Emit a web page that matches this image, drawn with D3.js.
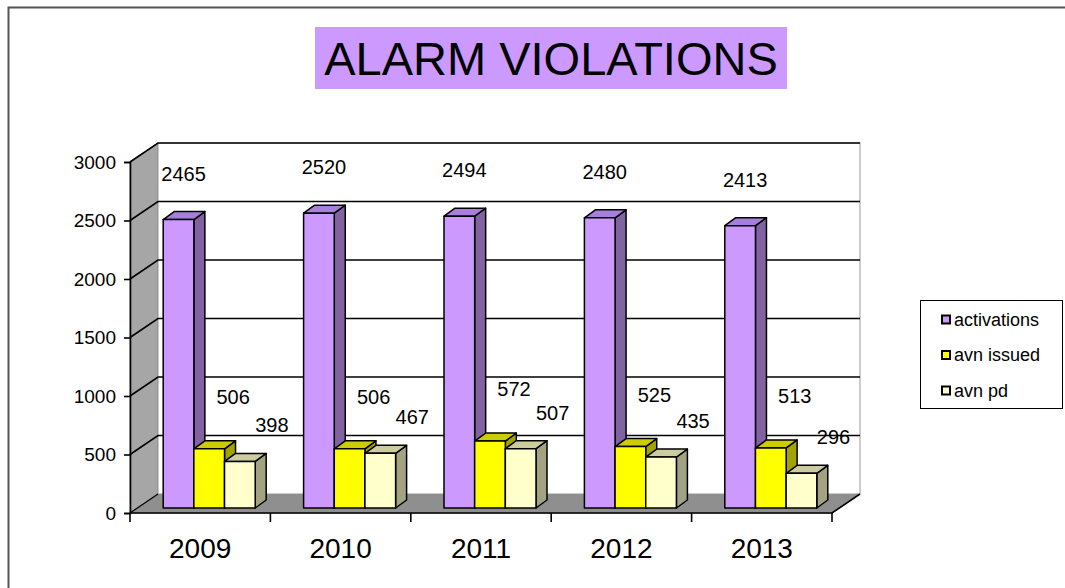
<!DOCTYPE html>
<html>
<head>
<meta charset="utf-8">
<script src="https://cdn.jsdelivr.net/npm/d3@7"></script>
<style>
body { margin: 0; background: #fff; }
svg text { font-family: Arial, "Liberation Sans", sans-serif; fill: #000; }
</style>
</head>
<body>
<div id="chart"></div>
<script>
var years = ["2009", "2010", "2011", "2012", "2013"];
var activations = [2465, 2520, 2494, 2480, 2413];
var avnIssued = [506, 506, 572, 525, 513];
var avnPd = [398, 467, 507, 435, 296];
var seriesNames = ["activations", "avn issued", "avn pd"];
var yTicks = [0, 500, 1000, 1500, 2000, 2500, 3000];

var W = 1065, H = 588;
var svg = d3.select("#chart").append("svg")
	.attr("width", W)
	.attr("height", H);

// outer frame
svg.append("path")
	.attr("d", "M8.5," + (H + 2) + "V7.5H" + (W + 2))
	.attr("fill", "none")
	.attr("stroke", "#555")
	.attr("stroke-width", 2);

// title
svg.append("rect")
	.attr("x", 315).attr("y", 27)
	.attr("width", 472).attr("height", 62)
	.attr("fill", "#CC99FF");
svg.append("text")
	.attr("x", 551).attr("y", 75)
	.attr("text-anchor", "middle")
	.attr("font-size", 47)
	.text("ALARM VIOLATIONS");

// plot geometry (front plane + depth)
var x0 = 130, x1 = 832;
var dX = 28, dY = -19;
var y = d3.scaleLinear().domain([0, 3000]).range([513, 162]);
var x = d3.scaleBand().domain(years).range([x0, x1]);

var series = [
	{name: seriesNames[0], values: activations, front: "#CC99FF", top: "#A680DC", side: "#8063A0", ldx: 5, ldy: 39},
	{name: seriesNames[1], values: avnIssued, front: "#FFFF00", top: "#CCCC00", side: "#A3A300", ldx: 24, ldy: 45},
	{name: seriesNames[2], values: avnPd, front: "#FFFFCC", top: "#CCCC9E", side: "#A3A383", ldx: 32, ldy: 29}
];

// side wall
svg.append("polygon")
	.attr("points", [[x0, y(0)], [x0 + dX, y(0) + dY], [x0 + dX, y(3000) + dY], [x0, y(3000)]].join(" "))
	.attr("fill", "#A6A6A6")
	.attr("stroke", "#808080");

// floor
svg.append("polygon")
	.attr("points", [[x0, y(0)], [x1, y(0)], [x1 + dX, y(0) + dY], [x0 + dX, y(0) + dY]].join(" "))
	.attr("fill", "#8F8F8F")
	.attr("stroke", "#808080");

// back wall
svg.append("rect")
	.attr("x", x0 + dX).attr("y", y(3000) + dY)
	.attr("width", x1 - x0).attr("height", y(0) - y(3000))
	.attr("fill", "#fff")
	.attr("stroke", "#999");

// gridlines
var grid = svg.append("g").attr("class", "grid");
grid.selectAll("path")
	.data(yTicks.filter(function(t) { return t > 0; }))
	.enter()
	.append("path")
	.attr("d", function(t) {
		return "M" + x0 + "," + y(t) + "L" + (x0 + dX) + "," + (y(t) + dY) + "H" + (x1 + dX);
	})
	.attr("fill", "none")
	.attr("stroke", "#000")
	.attr("stroke-width", 1.6);

// floor edges
svg.append("path")
	.attr("d", "M" + x0 + "," + y(0) + "L" + (x0 + dX) + "," + (y(0) + dY))
	.attr("stroke", "#000").attr("stroke-width", 1.2);
svg.append("path")
	.attr("d", "M" + x0 + "," + y(0) + "H" + x1 + "L" + (x1 + dX) + "," + (y(0) + dY))
	.attr("fill", "none")
	.attr("stroke", "#000").attr("stroke-width", 1.6);

// y axis
var yAxis = svg.append("g")
	.attr("transform", "translate(" + x0 + ",0)")
	.call(d3.axisLeft(y).tickValues(yTicks).tickSize(6).tickPadding(8).tickFormat(d3.format("d")));
yAxis.select(".domain").attr("stroke", "#000").attr("stroke-width", 1.6);
yAxis.selectAll(".tick line").attr("stroke", "#000").attr("stroke-width", 1.6);
yAxis.selectAll(".tick text")
	.attr("font-size", 19)
	.attr("font-family", "Arial, 'Liberation Sans', sans-serif")
	.attr("fill", "#000");

// x axis ticks and labels
var xAxis = svg.append("g");
xAxis.selectAll("line")
	.data(years.map(function(d) { return x(d); }).concat([x1]))
	.enter()
	.append("line")
	.attr("x1", function(d) { return d; })
	.attr("x2", function(d) { return d; })
	.attr("y1", y(0))
	.attr("y2", y(0) + 9)
	.attr("stroke", "#000")
	.attr("stroke-width", 1.6);
xAxis.selectAll("text")
	.data(years)
	.enter()
	.append("text")
	.attr("x", function(d) { return x(d) + x.bandwidth() / 2; })
	.attr("y", 558)
	.attr("text-anchor", "middle")
	.attr("font-size", 28)
	.text(function(d) { return d; });

// bars
var barOx = 9, barOy = -5;
var bdx = 11, bdy = -8;
var inner = d3.scaleBand().domain(seriesNames).range([0, 92]);
var groupOff = (x.bandwidth() - 92) / 2;
var yb = d3.scaleLinear().domain([0, 3000]).range([y(0) + barOy, y(3000) + barOy]);

var bars = [];
years.forEach(function(yr, i) {
	series.forEach(function(s) {
		bars.push({year: yr, s: s, v: s.values[i],
			bx: x(yr) + groupOff + inner(s.name) + barOx});
	});
});

var bw = inner.bandwidth();
var barG = svg.append("g").attr("class", "bars")
	.selectAll("g")
	.data(bars)
	.enter()
	.append("g")
	.attr("stroke", "#000")
	.attr("stroke-width", 1.5)
	.attr("stroke-linejoin", "round");

barG.append("polygon")
	.attr("points", function(d) {
		var t = yb(d.v), b = yb(0);
		return [[d.bx + bw, t], [d.bx + bw + bdx, t + bdy], [d.bx + bw + bdx, b + bdy], [d.bx + bw, b]].join(" ");
	})
	.attr("fill", function(d) { return d.s.side; });
barG.append("polygon")
	.attr("points", function(d) {
		var t = yb(d.v);
		return [[d.bx, t], [d.bx + bdx, t + bdy], [d.bx + bw + bdx, t + bdy], [d.bx + bw, t]].join(" ");
	})
	.attr("fill", function(d) { return d.s.top; });
barG.append("rect")
	.attr("x", function(d) { return d.bx; })
	.attr("y", function(d) { return yb(d.v); })
	.attr("width", bw)
	.attr("height", function(d) { return yb(0) - yb(d.v); })
	.attr("fill", function(d) { return d.s.front; });

// data labels
svg.append("g").attr("class", "labels")
	.selectAll("text")
	.data(bars)
	.enter()
	.append("text")
	.attr("x", function(d) { return d.bx + bw / 2 + d.s.ldx; })
	.attr("y", function(d) { return yb(d.v) - d.s.ldy; })
	.attr("text-anchor", "middle")
	.attr("font-size", 20)
	.text(function(d) { return d.v; });

// legend
var legend = svg.append("g").attr("transform", "translate(920,300)");
legend.append("rect")
	.attr("x", 0.5).attr("y", 0.5)
	.attr("width", 142).attr("height", 108)
	.attr("fill", "#fff")
	.attr("stroke", "#000");
var li = legend.selectAll("g.item")
	.data(series)
	.enter()
	.append("g")
	.attr("class", "item")
	.attr("transform", function(d, i) { return "translate(22," + (19.5 + i * 35.5) + ")"; });
li.append("rect")
	.attr("x", 0).attr("y", -4)
	.attr("width", 8).attr("height", 8)
	.attr("fill", function(d) { return d.front; })
	.attr("stroke", "#000")
	.attr("stroke-width", 2);
li.append("text")
	.attr("x", 12).attr("y", 6)
	.attr("font-size", 18)
	.text(function(d) { return d.name; });
</script>
</body>
</html>
